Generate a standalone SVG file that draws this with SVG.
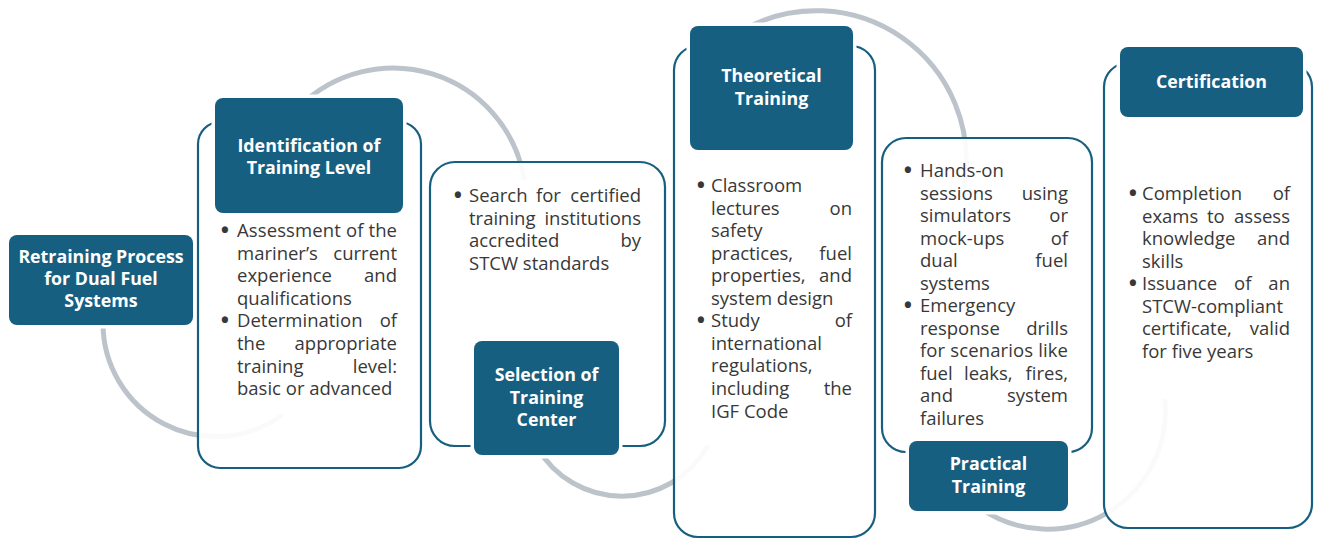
<svg xmlns="http://www.w3.org/2000/svg" width="1319" height="539" viewBox="0 0 1319 539">
<style>
.hdr{fill:#175f81;stroke:#fff;stroke-width:7;paint-order:stroke}
.box{fill:#fff;fill-opacity:0.92;stroke:#175f81;stroke-width:2.2}
.ht{font-family:"Open Sans","Liberation Sans",sans-serif;font-weight:700;font-size:17.8px;fill:#fff;text-anchor:middle}
.bt{font-family:"Open Sans","Liberation Sans",sans-serif;font-size:18.5px;fill:#383838}
.e{text-anchor:end}
.b{text-anchor:middle;font-size:22px;font-weight:700}
.arc{fill:none;stroke:#bcc3ca;stroke-width:5;stroke-linecap:round}
</style>
<rect width="1319" height="539" fill="#fff"/>
<g id="connectors">
<path class="arc" d="M103,323 A113,113 0 0 0 281,416"/>
<path class="arc" d="M299,107 A133,133 0 0 1 524,178"/>
<path class="arc" d="M537,447 A98,98 0 0 0 707,447"/>
<path class="arc" d="M741,31 A150,150 0 0 1 964,187"/>
<path class="arc" d="M980,508 A118,118 0 0 0 1165,401"/>
</g>
<g id="node-retraining">
<rect class="hdr" x="9" y="235" width="184" height="90" rx="8"/>
<text class="ht" x="101" y="263">Retraining Process</text>
<text class="ht" x="101" y="285">for Dual Fuel</text>
<text class="ht" x="101" y="307">Systems</text>
</g>
<g id="node-identification">
<rect class="box" x="198" y="122" width="223" height="346" rx="22"/>
<rect class="hdr" x="215" y="98" width="188" height="115" rx="8"/>
<text class="ht" x="309" y="152">Identification of</text>
<text class="ht" x="309" y="174">Training Level</text>
<text class="bt b" x="225" y="238">•</text>
<text class="bt" x="237" y="237" textLength="160" lengthAdjust="spacing">Assessment of the</text>
<text class="bt" x="237" y="259.6">mariner’s</text><text class="bt e" x="397" y="259.6">current</text>
<text class="bt" x="237" y="282.2">experience</text><text class="bt e" x="397" y="282.2">and</text>
<text class="bt" x="237" y="304.8">qualifications</text>
<text class="bt b" x="225" y="328.4">•</text>
<text class="bt" x="237" y="327.4">Determination</text><text class="bt e" x="397" y="327.4">of</text>
<text class="bt" x="237" y="350">the</text><text class="bt e" x="397" y="350">appropriate</text>
<text class="bt" x="237" y="372.6">training</text><text class="bt e" x="397" y="372.6">level:</text>
<text class="bt" x="237" y="395.2">basic or advanced</text>
</g>
<g id="node-selection">
<rect class="box" x="430" y="162" width="235" height="284" rx="25"/>
<rect class="hdr" x="474" y="341" width="145" height="114" rx="8"/>
<text class="ht" x="546.5" y="381">Selection of</text>
<text class="ht" x="546.5" y="404">Training</text>
<text class="ht" x="546.5" y="426">Center</text>
<text class="bt b" x="458" y="203">•</text>
<text class="bt" x="469" y="202">Search</text><text class="bt" x="536" y="202">for</text><text class="bt e" x="641" y="202">certified</text>
<text class="bt" x="469" y="224.6">training</text><text class="bt e" x="641" y="224.6">institutions</text>
<text class="bt" x="469" y="247.2">accredited</text><text class="bt e" x="641" y="247.2">by</text>
<text class="bt" x="469" y="269.8">STCW standards</text>
</g>
<g id="node-theoretical">
<rect class="box" x="674" y="46" width="201" height="491" rx="24"/>
<rect class="hdr" x="690" y="26" width="163" height="124" rx="8"/>
<text class="ht" x="771.5" y="82">Theoretical</text>
<text class="ht" x="771.5" y="105">Training</text>
<text class="bt b" x="701" y="193">•</text>
<text class="bt" x="711" y="192">Classroom</text>
<text class="bt" x="711" y="214.6">lectures</text><text class="bt e" x="852" y="214.6">on</text>
<text class="bt" x="711" y="237.1">safety</text>
<text class="bt" x="711" y="259.7">practices,</text><text class="bt e" x="852" y="259.7">fuel</text>
<text class="bt" x="711" y="282.2">properties,</text><text class="bt e" x="852" y="282.2">and</text>
<text class="bt" x="711" y="304.8">system design</text>
<text class="bt b" x="701" y="328.3">•</text>
<text class="bt" x="711" y="327.3">Study</text><text class="bt e" x="852" y="327.3">of</text>
<text class="bt" x="711" y="349.9">international</text>
<text class="bt" x="711" y="372.4">regulations,</text>
<text class="bt" x="711" y="395">including</text><text class="bt e" x="852" y="395">the</text>
<text class="bt" x="711" y="417.5">IGF Code</text>
</g>
<g id="node-practical">
<rect class="box" x="882" y="138" width="210" height="314" rx="24"/>
<rect class="hdr" x="909" y="441" width="159" height="70" rx="8"/>
<text class="ht" x="988.5" y="470">Practical</text>
<text class="ht" x="988.5" y="493">Training</text>
<text class="bt b" x="908" y="178">•</text>
<text class="bt" x="920" y="177">Hands-on</text>
<text class="bt" x="920" y="199.5">sessions</text><text class="bt e" x="1068" y="199.5">using</text>
<text class="bt" x="920" y="222">simulators</text><text class="bt e" x="1068" y="222">or</text>
<text class="bt" x="920" y="244.5">mock-ups</text><text class="bt e" x="1068" y="244.5">of</text>
<text class="bt" x="920" y="267">dual</text><text class="bt e" x="1068" y="267">fuel</text>
<text class="bt" x="920" y="289.5">systems</text>
<text class="bt b" x="908" y="313">•</text>
<text class="bt" x="920" y="312">Emergency</text>
<text class="bt" x="920" y="334.5">response</text><text class="bt e" x="1068" y="334.5">drills</text>
<text class="bt" x="920" y="357" textLength="148" lengthAdjust="spacing">for scenarios like</text>
<text class="bt" x="920" y="379.5">fuel</text><text class="bt" x="964" y="379.5">leaks,</text><text class="bt e" x="1068" y="379.5">fires,</text>
<text class="bt" x="920" y="402">and</text><text class="bt e" x="1068" y="402">system</text>
<text class="bt" x="920" y="424.5">failures</text>
</g>
<g id="node-certification">
<rect class="box" x="1104" y="63" width="208" height="465" rx="24"/>
<rect class="hdr" x="1120" y="47" width="183" height="70" rx="8"/>
<text class="ht" x="1211.5" y="88">Certification</text>
<text class="bt b" x="1133" y="201">•</text>
<text class="bt" x="1142" y="200">Completion</text><text class="bt e" x="1290" y="200">of</text>
<text class="bt" x="1142" y="222.5">exams</text><text class="bt" x="1207" y="222.5">to</text><text class="bt e" x="1290" y="222.5">assess</text>
<text class="bt" x="1142" y="245">knowledge</text><text class="bt e" x="1290" y="245">and</text>
<text class="bt" x="1142" y="267.5">skills</text>
<text class="bt b" x="1133" y="291">•</text>
<text class="bt" x="1142" y="290">Issuance</text><text class="bt" x="1234" y="290">of</text><text class="bt e" x="1290" y="290">an</text>
<text class="bt" x="1142" y="312.5">STCW-compliant</text>
<text class="bt" x="1142" y="335">certificate,</text><text class="bt e" x="1290" y="335">valid</text>
<text class="bt" x="1142" y="357.5">for five years</text>
</g>
</svg>
